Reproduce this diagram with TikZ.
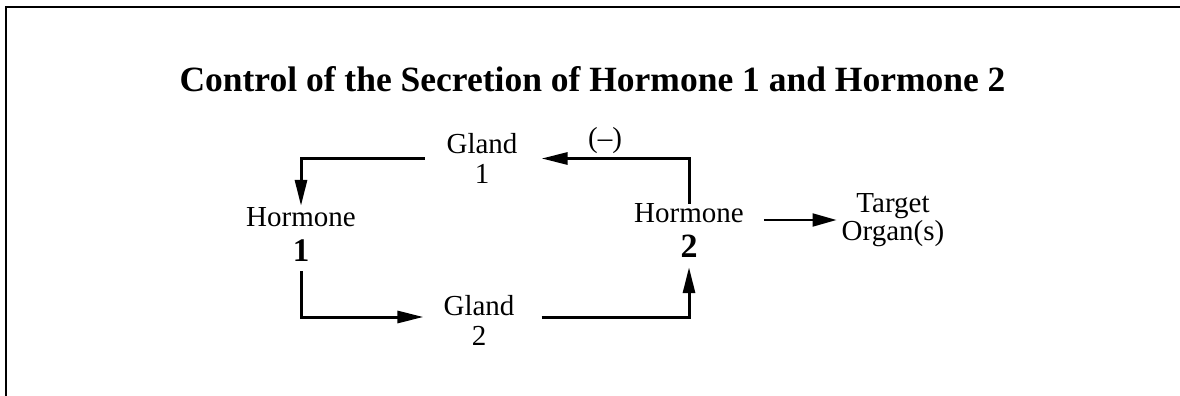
\documentclass[tikz,border=0pt]{standalone}
\usepackage{fontspec}
\setmainfont{Liberation Serif}
\usetikzlibrary{arrows.meta}
\begin{document}
\begin{tikzpicture}[x=1pt,y=-1pt,
  lbl/.style={inner sep=0pt,align=center,font=\fontsize{29}{30}\selectfont},
  conn/.style={line width=3pt,-{Triangle[length=26pt,width=12pt]}},
  thin/.style={line width=2pt,-{Triangle[length=24pt,width=13pt]}}]
\useasboundingbox (0,0) rectangle (1180,396);
\draw[line width=2.5pt] (6,400) -- (6,7) -- (1190,7);
\node[inner sep=0pt,anchor=base,font=\bfseries\fontsize{35.5}{36}\selectfont] (title) at (592.5,91) {Control of the Secretion of Hormone 1 and Hormone 2};
\node[lbl] (g1) at (482,158.5) {Gland\\1};
\node[lbl] (h1) at (301,235) {Hormone\\[5pt]{\bfseries\fontsize{33}{33}\selectfont 1}};
\node[lbl] (g2) at (479,320) {Gland\\2};
\node[lbl] (h2) at (689,231) {Hormone\\[5pt]{\bfseries\fontsize{34}{34}\selectfont 2}};
\node[lbl,font=\fontsize{29}{26}\selectfont] (t) at (893,220) {Target\\Organ(s)};
\node[lbl] (neg) at (605,140.5) {(--)};
\draw[conn,shorten <=21.5pt,shorten >=2pt] (g1.west) -| (h1.north);
\draw[conn,shorten <=9pt,shorten >=20pt] (h1.south) |- ([yshift=3pt]g2.west);
\draw[conn,shorten <=27pt,shorten >=9pt] ([yshift=3pt]g2.east) -| (h2.south);
\draw[conn,shorten >=24pt] (h2.north) |- (g1.east);
\draw[thin,shorten <=20pt,shorten >=5pt] (h2.east |- t.west) -- (t.west);
\end{tikzpicture}
\end{document}
